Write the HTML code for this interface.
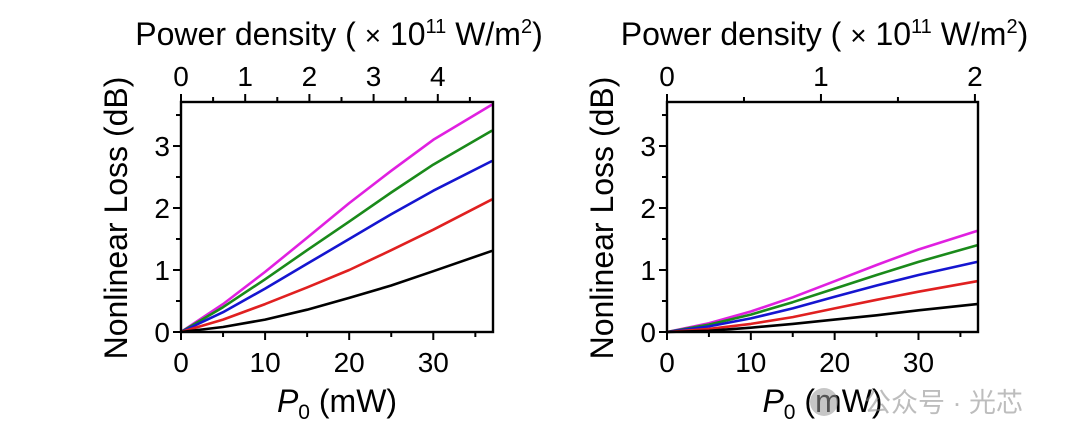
<!DOCTYPE html>
<html><head><meta charset="utf-8"><style>
body{margin:0;background:#fff;}
svg{display:block;font-family:"Liberation Sans","Noto Sans CJK SC",sans-serif;}
</style></head><body>
<svg id="chart" width="1080" height="444" viewBox="0 0 1080 444"></svg>
<script>
const xValues=[0,5,10,15,20,25,30,37];
const seriesNames=['magenta','green','blue','red','black'];
const seriesColors=['#e020e0','#1a8a1a','#1515d0','#e02020','#000000'];
const leftMagenta=[0,0.45,0.97,1.52,2.08,2.6,3.1,3.67];
const leftGreen=[0,0.4,0.85,1.32,1.78,2.25,2.7,3.25];
const leftBlue=[0,0.32,0.7,1.1,1.5,1.9,2.28,2.76];
const leftRed=[0,0.2,0.45,0.72,1.0,1.32,1.65,2.14];
const leftBlack=[0,0.08,0.2,0.36,0.55,0.75,0.98,1.31];
const rightMagenta=[0,0.14,0.33,0.56,0.82,1.08,1.33,1.63];
const rightGreen=[0,0.12,0.28,0.48,0.7,0.92,1.13,1.4];
const rightBlue=[0,0.09,0.22,0.38,0.57,0.75,0.92,1.13];
const rightRed=[0,0.05,0.13,0.24,0.38,0.52,0.65,0.82];
const rightBlack=[0,0.02,0.07,0.13,0.2,0.27,0.35,0.45];
const xTicks=[0,10,20,30];
const yTicks=[0,1,2,3];
const leftTopTicks=[0,1,2,3,4];
const rightTopTicks=[0,1,2];
const NS='http://www.w3.org/2000/svg';
const svg=document.getElementById('chart');
function mk(tag,attrs,parent){const e=document.createElementNS(NS,tag);for(const k in attrs)e.setAttribute(k,attrs[k]);(parent||svg).appendChild(e);return e;}
function panel(id,x0,x1,top,bottom,topMax,topMinor,series){
  const xmax=37.1,ymax=3.71;
  const X=v=>x0+(x1-x0)*v/xmax, Y=v=>bottom-(bottom-top)*v/ymax, XT=v=>x0+(x1-x0)*v/topMax;
  const g=mk('g',{});
  
  
  series.forEach((arr,i)=>{
    const p=mk('path',{d:arr.map((v,j)=>(j?'L':'M')+X(xValues[j]).toFixed(1)+','+Y(v).toFixed(1)).join(''),fill:'none',stroke:seriesColors[i],'stroke-width':2.6,'stroke-linejoin':'round'},g);
    
    
  });
  const f=mk('rect',{x:x0,y:top,width:x1-x0,height:bottom-top,fill:'none',stroke:'#000','stroke-width':2.4},g);
  
  
  for(let v=0;v<=35;v+=5){const big=v%10==0;mk('line',{x1:X(v),x2:X(v),y1:bottom,y2:bottom+(big?8:5),stroke:'#000','stroke-width':2},g);}
  xTicks.forEach(v=>{const t=mk('text',{x:X(v),y:bottom+40,'font-size':28,'text-anchor':'middle'},g);t.textContent=v;});
  for(let v=0;v<=3.5;v+=0.5){const big=v%1==0;mk('line',{x1:x0,x2:x0-(big?8:5),y1:Y(v),y2:Y(v),stroke:'#000','stroke-width':2},g);}
  yTicks.forEach(v=>{const t=mk('text',{x:x0-11,y:Y(v)+10,'font-size':28,'text-anchor':'end'},g);t.textContent=v;});
  for(let v=0;v<=topMax+1e-6;v+=topMinor){const big=Math.abs(v-Math.round(v))<1e-6;mk('line',{x1:XT(v),x2:XT(v),y1:top,y2:top-(big?8:5),stroke:'#000','stroke-width':2},g);}
  (id=='left'?leftTopTicks:rightTopTicks).forEach(v=>{const t=mk('text',{x:XT(v),y:top-16,'font-size':28,'text-anchor':'middle'},g);t.textContent=v;});
  const cx=(x0+x1)/2;
  const tt=mk('text',{x:cx+2,y:45,'font-size':32,'text-anchor':'middle'},g);
  tt.innerHTML='Power density ( <tspan font-size="28">×</tspan> 10<tspan dy="-12" font-size="20">11</tspan><tspan dy="12"> W/m</tspan><tspan dy="-12" font-size="20">2</tspan><tspan dy="12">)</tspan>';
  
  const xl=mk('text',{x:cx,y:412,'font-size':32,'text-anchor':'middle'},g);
  xl.innerHTML='<tspan font-style="italic">P</tspan><tspan dy="7" font-size="21">0</tspan><tspan dy="-7"> (mW)</tspan>';
  
  const yl=mk('text',{x:0,y:0,'font-size':32,'text-anchor':'middle',transform:`translate(${x0-54},${(top+bottom)/2+1}) rotate(-90)`},g);
  yl.textContent='Nonlinear Loss (dB)';
  
}
panel('left',181,493,102,332,4.86,0.5,[leftMagenta,leftGreen,leftBlue,leftRed,leftBlack]);
panel('right',667,978,102,332,2.02,0.5,[rightMagenta,rightGreen,rightBlue,rightRed,rightBlack]);
const wm=mk('g',{opacity:0.55});


mk('circle',{cx:824,cy:402,r:14,fill:'#999'},wm);
const wt=mk('text',{x:864,y:412,'font-size':27,fill:'#888'},wm);
wt.textContent='公众号 · 光芯';
</script>
</body></html>
